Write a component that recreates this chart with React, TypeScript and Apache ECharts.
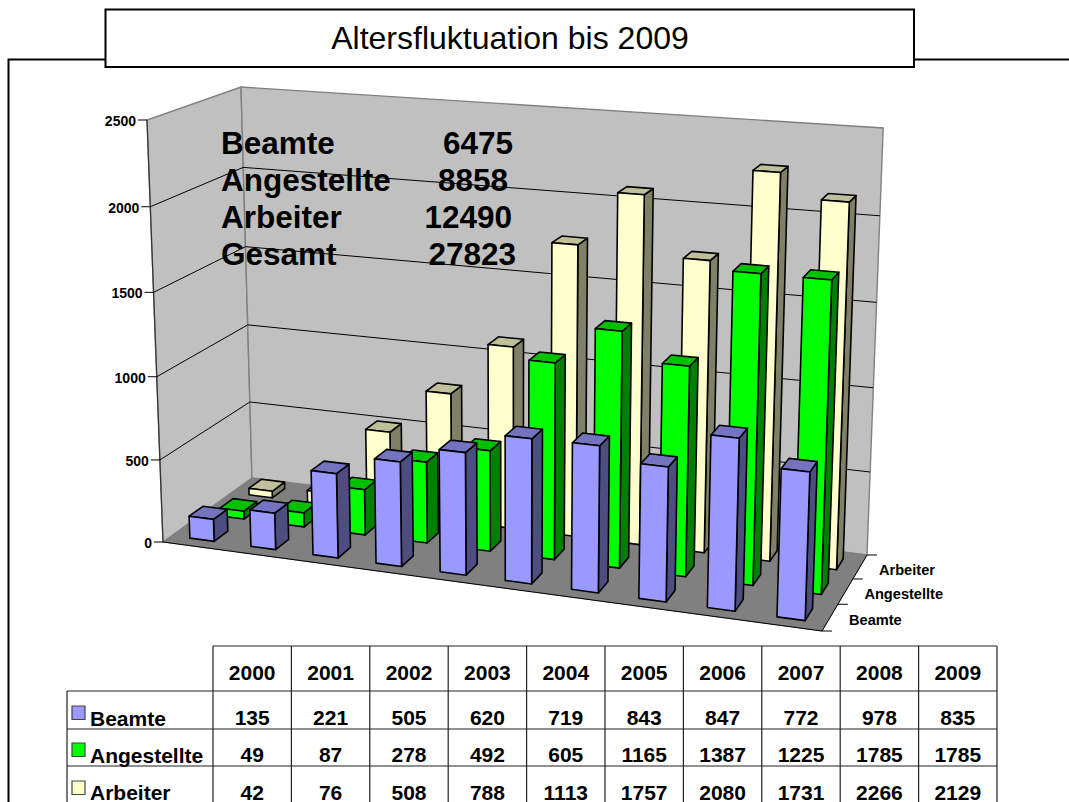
import React, { useEffect, useRef } from "react";
import * as echarts from "echarts";

const years = ["2000", "2001", "2002", "2003", "2004", "2005", "2006", "2007", "2008", "2009"];
const beamte = [135, 221, 505, 620, 719, 843, 847, 772, 978, 835];
const angestellte = [49, 87, 278, 492, 605, 1165, 1387, 1225, 1785, 1785];
const arbeiter = [42, 76, 508, 788, 1113, 1757, 2080, 1731, 2266, 2129];
const yTicks = [0, 500, 1000, 1500, 2000, 2500];
const seriesNames = ["Beamte", "Angestellte", "Arbeiter"];
const summaryLabels = ["Beamte", "Angestellte", "Arbeiter", "Gesamt"];
const summaryValues = ["6475", "8858", "12490", "27823"];
const FONT = '"Liberation Sans", Arial, sans-serif';

type Pt = [number, number];
function homography(q: Pt[]) {
  const [[x0, y0], [x1, y1], [x2, y2], [x3, y3]] = q;
  const dx1 = x1 - x2, dx2 = x3 - x2, sx = x0 - x1 + x2 - x3;
  const dy1 = y1 - y2, dy2 = y3 - y2, sy = y0 - y1 + y2 - y3;
  const den = dx1 * dy2 - dx2 * dy1;
  const g = (sx * dy2 - dx2 * sy) / den;
  const h = (dx1 * sy - sx * dy1) / den;
  const a = x1 - x0 + g * x1, b = x3 - x0 + h * x3;
  const d = y1 - y0 + g * y1, e = y3 - y0 + h * y3;
  return (u: number, v: number): Pt => {
    const k = g * u + h * v + 1;
    return [(a * u + b * v + x0) / k, (d * u + e * v + y0) / k];
  };
}
// Camera: floor quad, vanishing point of the verticals, screen height of the walls at the corners.
const floorMap = homography([[163, 542], [822, 631], [867, 555], [252, 478]]);
const VP: Pt = [515, 9830];
const CORNER_H = { fl: 422, fr: 460, bl: 391, br: 427 };
const project = (u: number, w: number, h: number): Pt => {
  const f = floorMap(u, w);
  const H =
    (CORNER_H.fl * (1 - u) + CORNER_H.fr * u) * (1 - w) +
    (CORNER_H.bl * (1 - u) + CORNER_H.br * u) * w;
  const eased = h * (0.965 + 0.035 * h);
  const t = (eased * H) / (VP[1] - f[1]);
  return [f[0] + (f[0] - VP[0]) * t, f[1] - (VP[1] - f[1]) * t];
};

const GRID = { left: 200, top: 120, width: 600, height: 400 };
const toU = (x: number) => (x - GRID.left) / GRID.width;
const toH = (y: number) => (GRID.top + GRID.height - y) / GRID.height;
const BAR_FRACTION = 0.4;
const DEPTH_FRACTION = 0.45;

function barSeries(values: number[], row: number, front: string, side: string, top: string) {
  return {
    type: "custom",
    name: seriesNames[row],
    coordinateSystem: "cartesian2d",
    clip: false,
    data: values.map((v, i) => [i, v]),
    renderItem: (_p: any, api: any) => {
      const pos = api.coord([api.value(0), api.value(1)]);
      const band = api.size([1, 0])[0];
      const uc = toU(pos[0]);
      const du = (band / GRID.width) * BAR_FRACTION / 2;
      const h = toH(pos[1]);
      const w0 = (row + 0.5) / 3 - DEPTH_FRACTION / 6;
      const w1 = (row + 0.5) / 3 + DEPTH_FRACTION / 6;
      const u0 = uc - du, u1 = uc + du;
      const style = (fill: string) => ({ fill, stroke: "#000", lineWidth: 1.6, lineJoin: "round" });
      return {
        type: "group",
        children: [
          { type: "polygon", shape: { points: [project(u1, w0, 0), project(u1, w1, 0), project(u1, w1, h), project(u1, w0, h)] }, style: style(side) },
          { type: "polygon", shape: { points: [project(u0, w0, h), project(u1, w0, h), project(u1, w1, h), project(u0, w1, h)] }, style: style(top) },
          { type: "polygon", shape: { points: [project(u0, w0, 0), project(u1, w0, 0), project(u1, w0, h), project(u0, w0, h)] }, style: style(front) },
        ],
      };
    },
  };
}

const wallSeries = {
  type: "custom",
  coordinateSystem: "cartesian2d",
  clip: false,
  silent: true,
  data: [[0, 0]],
  renderItem: () => {
    const edge = { stroke: "#808080", lineWidth: 1.4 };
    const seg = (a: Pt, b: Pt, stroke: string, lineWidth: number) => ({
      type: "line",
      shape: { x1: a[0], y1: a[1], x2: b[0], y2: b[1] },
      style: { stroke, lineWidth },
    });
    return {
      type: "group",
      children: [
        { type: "polygon", shape: { points: [project(0, 0, 0), project(0, 1, 0), project(0, 1, 1), project(0, 0, 1)] }, style: { fill: "#C0C0C0", ...edge } },
        { type: "polygon", shape: { points: [project(0, 1, 0), project(1, 1, 0), project(1, 1, 1), project(0, 1, 1)] }, style: { fill: "#C0C0C0", ...edge } },
        { type: "polygon", shape: { points: [project(0, 0, 0), project(1, 0, 0), project(1, 1, 0), project(0, 1, 0)] }, style: { fill: "#808080", stroke: "#808080", lineWidth: 1 } },
        seg(project(0, 0, 0), project(1, 0, 0), "#000", 1),
        seg(project(1, 0, 0), project(1, 1, 0), "#000", 1),
        seg(project(0, 0, 0), project(0, 0, 1), "#333", 1.2),
      ],
    };
  },
};

const gridSeries = {
  type: "custom",
  coordinateSystem: "cartesian2d",
  clip: false,
  silent: true,
  data: yTicks.map((t) => [0, t]),
  renderItem: (_p: any, api: any) => {
    const v = api.value(1);
    const h = toH(api.coord([0, v])[1]);
    const a = project(0, 0, h), b = project(0, 1, h), c = project(1, 1, h);
    const kids: any[] = [
      { type: "line", shape: { x1: a[0] - 9, y1: a[1], x2: a[0], y2: a[1] }, style: { stroke: "#000", lineWidth: 1 } },
      { type: "text", style: { text: String(v), x: a[0] - 11, y: a[1] + 1, fill: "#000", font: `bold 14px ${FONT}`, align: "right", verticalAlign: "middle" } },
    ];
    if (v > 0 && v < 2500) {
      kids.push(
        { type: "polyline", shape: { points: [a, b, c] }, style: { stroke: "#000", lineWidth: 1, fill: "none" } },
      );
    }
    return { type: "group", children: kids };
  },
};

const depthSeries = {
  type: "custom",
  coordinateSystem: "cartesian2d",
  clip: false,
  silent: true,
  data: [[0, 0], [0, 1], [0, 2], [0, 3]],
  renderItem: (_p: any, api: any) => {
    const k = api.value(1);
    const p = project(1, k / 3, 0);
    const kids: any[] = [
      { type: "line", shape: { x1: p[0], y1: p[1], x2: p[0] + 10, y2: p[1] }, style: { stroke: "#000", lineWidth: 1 } },
    ];
    if (k < 3) {
      const m = project(1, (k + 0.5) / 3, 0);
      kids.push({ type: "text", style: { text: seriesNames[k], x: m[0] + 19, y: m[1] + 3, fill: "#000", font: `bold 14.6px ${FONT}`, align: "left", verticalAlign: "middle" } });
    }
    return { type: "group", children: kids };
  },
};

const Z = 100;
function overlay() {
  const out: any[] = [];
  const line = (x1: number, y1: number, x2: number, y2: number, stroke = "#222", lineWidth = 1.2) =>
    out.push({ type: "line", z: Z, shape: { x1, y1, x2, y2 }, style: { stroke, lineWidth } });
  const text = (t: string, x: number, y: number, font: string, align = "center") =>
    out.push({ type: "text", z: Z + 1, style: { text: t, x, y, fill: "#000", font, align, verticalAlign: "middle" } });

  // frame and title
  out.push({ type: "polyline", z: Z, shape: { points: [[8.5, 802], [8.5, 59.5], [106, 59.5]] }, style: { stroke: "#000", lineWidth: 2, fill: "none", lineJoin: "miter" } });
  line(914, 59.5, 1069, 59.5, "#000", 2);
  out.push({ type: "rect", z: Z, shape: { x: 105.5, y: 9.5, width: 808.5, height: 57.5 }, style: { fill: "#fff", stroke: "#000", lineWidth: 2 } });
  text("Altersfluktuation bis 2009", 510, 38, `32px ${FONT}`);

  // summary block
  const rights = [513, 508, 512, 516];
  summaryLabels.forEach((l, i) => {
    const y = 143 + i * 37;
    text(l, 221, y, `bold 31.5px ${FONT}`, "left");
    text(summaryValues[i], rights[i], y, `bold 31.5px ${FONT}`, "right");
  });

  // data table
  const tx0 = 213, cw = 78.4, labelX = 67;
  const rowY = [646, 691, 729, 766];
  const bottom = 802;
  line(tx0, rowY[0], tx0 + cw * years.length, rowY[0]);
  line(labelX, rowY[1], tx0 + cw * years.length, rowY[1]);
  line(labelX, rowY[2], tx0 + cw * years.length, rowY[2]);
  line(labelX, rowY[3], tx0 + cw * years.length, rowY[3]);
  line(labelX, rowY[1], labelX, bottom);
  for (let i = 0; i <= years.length; i++) line(tx0 + cw * i, rowY[0], tx0 + cw * i, bottom);
  const bf = `bold 21px ${FONT}`;
  years.forEach((yr, i) => text(yr, tx0 + cw * (i + 0.5), 672, bf));
  const rows = [beamte, angestellte, arbeiter];
  const swatch = ["#9999FF", "#00FF00", "#FFFFCC"];
  const centers = [717, 754, 792];
  rows.forEach((vals, r) => {
    out.push({ type: "rect", z: Z, shape: { x: 72, y: centers[r] - 11, width: 13, height: 13.5 }, style: { fill: swatch[r], stroke: "#444", lineWidth: 1.2 } });
    text(seriesNames[r], 90, centers[r] + (r === 2 ? 0 : 1), bf, "left");
    vals.forEach((v, i) => text(String(v), tx0 + cw * (i + 0.5), centers[r], bf));
  });
  return out;
}

export default function App() {
  const ref = useRef<HTMLDivElement>(null);
  useEffect(() => {
    const chart = echarts.init(ref.current!, null, { renderer: "svg" });
    chart.setOption({
      animation: false,
      backgroundColor: "#fff",
      grid: GRID,
      xAxis: { type: "category", data: years, show: false },
      yAxis: { type: "value", min: 0, max: 2500, interval: 500, show: false },
      series: [
        wallSeries,
        gridSeries,
        depthSeries,
        barSeries(arbeiter, 2, "#FFFFCC", "#808066", "#BFBF99"),
        barSeries(angestellte, 1, "#00FF00", "#008000", "#00C000"),
        barSeries(beamte, 0, "#9999FF", "#4D4D80", "#7373BF"),
      ],
      graphic: { elements: overlay() },
    });
    return () => chart.dispose();
  }, []);
  return <div ref={ref} style={{ position: "absolute", left: 0, top: 0, width: 1069, height: 802 }} />;
}
